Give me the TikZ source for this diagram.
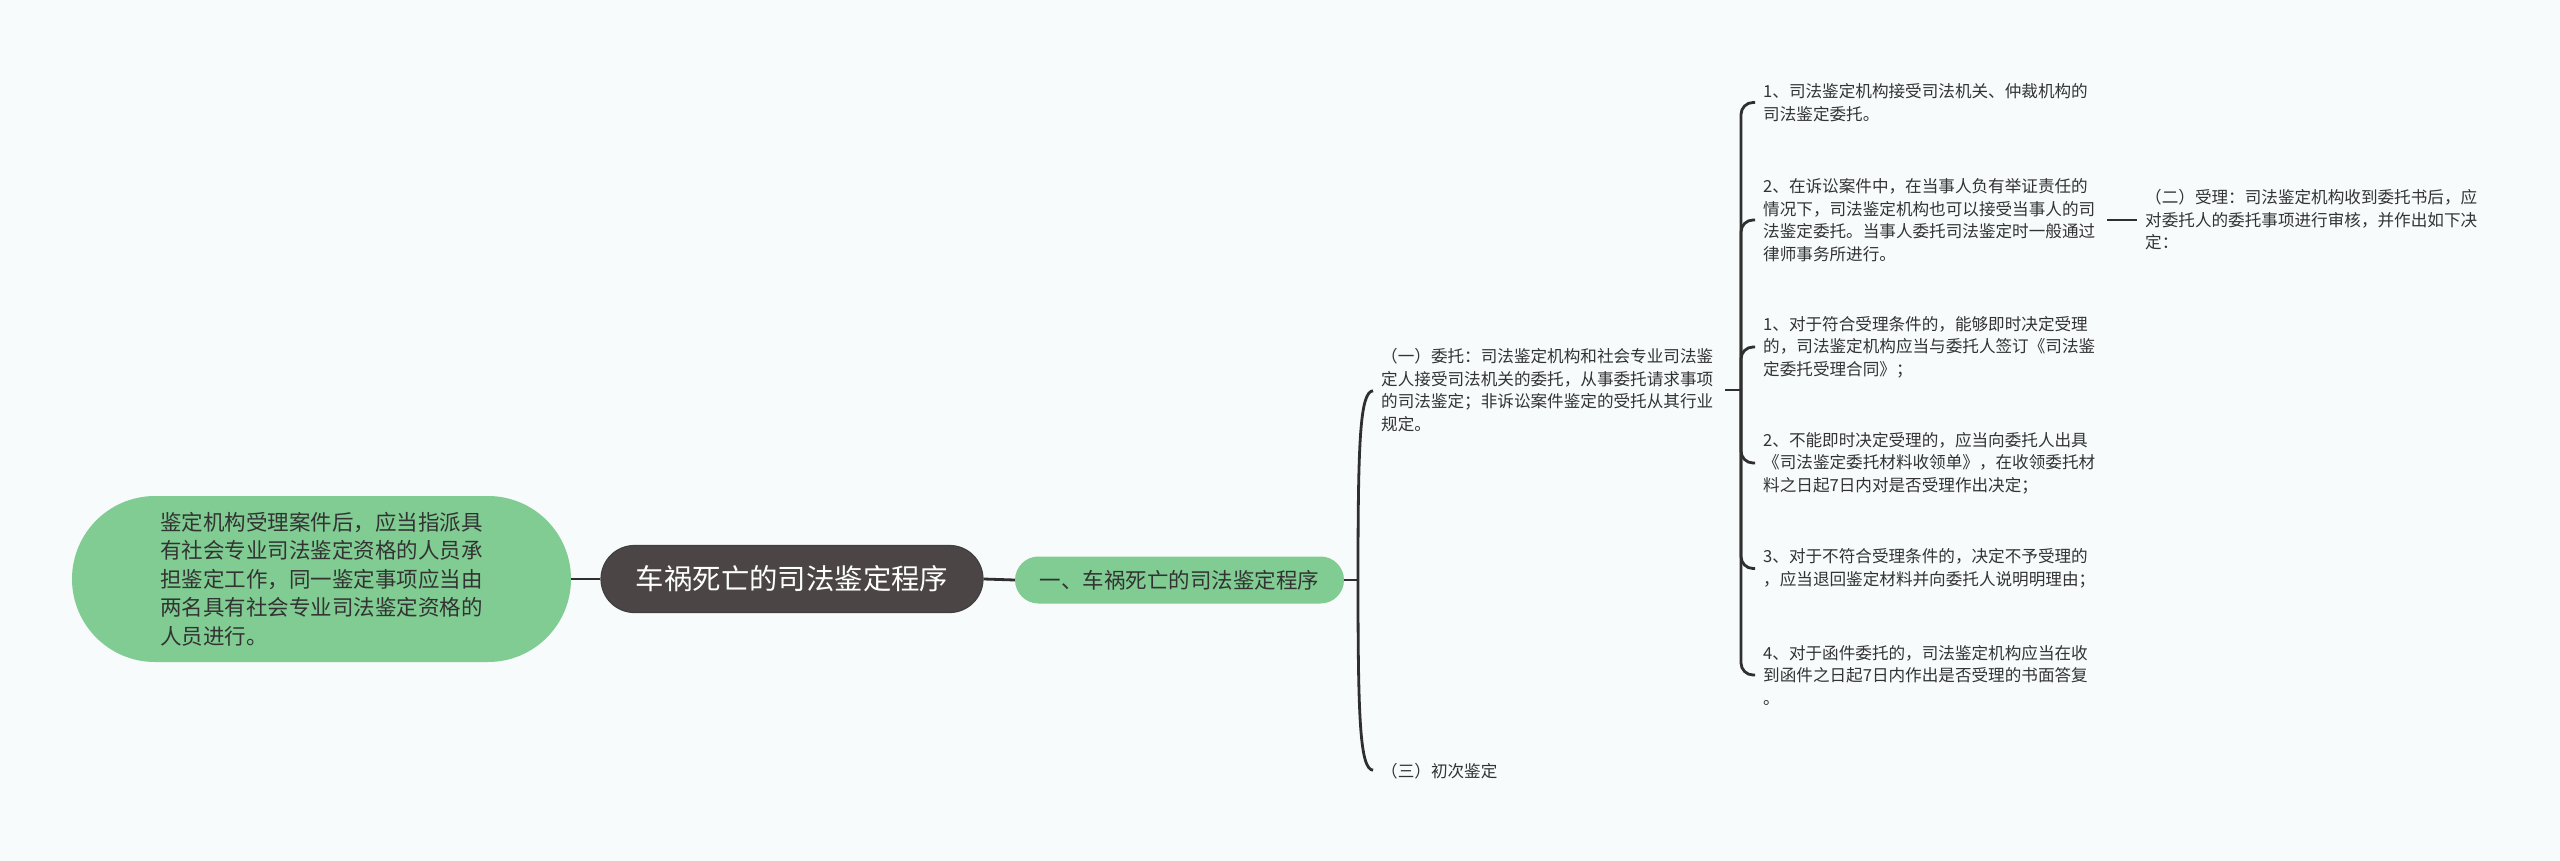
\documentclass[tikz,border=0pt]{standalone}
\usepackage{fontspec}
\setmainfont{Noto Sans CJK SC}
\definecolor{bgc}{HTML}{F7FBFC}
\definecolor{leafc}{HTML}{80CC92}
\definecolor{rootc}{HTML}{4B4545}
\definecolor{inkc}{HTML}{333333}
\definecolor{wirec}{HTML}{2F2F2F}
\tikzset{
  leafbox/.style={fill=leafc, text=inkc, inner sep=0pt},
  rootbox/.style={fill=rootc, draw=black!75, line width=1.2pt, text=white, inner sep=0pt},
  smalltxt/.style={anchor=west, align=left, inner sep=0pt, text=inkc, font=\fontsize{16.6}{22.5}\selectfont},
  wire/.style={draw=wirec, line width=2.8pt},
}
\begin{document}
\begin{tikzpicture}[x=1pt,y=-1pt]
\fill[bgc] (0,0) rectangle (2560,861);
\useasboundingbox (0,0) rectangle (2560,861);

\node[leafbox, rounded corners=83pt, minimum width=499pt, minimum height=166pt, align=left,
      font=\fontsize{21.5}{28.5}\selectfont] (L) at (321.5,579)
  {鉴定机构受理案件后，应当指派具\\有社会专业司法鉴定资格的人员承\\担鉴定工作，同一鉴定事项应当由\\两名具有社会专业司法鉴定资格的\\人员进行。};

\node[rootbox, rounded corners=33.5pt, minimum width=382pt, minimum height=67pt,
      font=\fontsize{28.4}{34}\selectfont] (R) at (792,579) {车祸死亡的司法鉴定程序};

\node[leafbox, rounded corners=23.5pt, minimum width=329pt, minimum height=47pt,
      font=\fontsize{21.5}{26}\selectfont] (G) at (1179.5,580) {一、车祸死亡的司法鉴定程序};

\node[smalltxt] (N1) at (1381,390)
  {（一）委托：司法鉴定机构和社会专业司法鉴\\定人接受司法机关的委托，从事委托请求事项\\的司法鉴定；非诉讼案件鉴定的受托从其行业\\规定。};
\node[smalltxt] (N3) at (1381,771) {（三）初次鉴定};

\node[smalltxt] (A) at (1763,102.5)
  {1、司法鉴定机构接受司法机关、仲裁机构的\\司法鉴定委托。};
\node[smalltxt] (B) at (1763,220)
  {2、在诉讼案件中，在当事人负有举证责任的\\情况下，司法鉴定机构也可以接受当事人的司\\法鉴定委托。当事人委托司法鉴定时一般通过\\律师事务所进行。};
\node[smalltxt] (C) at (1763,347)
  {1、对于符合受理条件的，能够即时决定受理\\的，司法鉴定机构应当与委托人签订《司法鉴\\定委托受理合同》；};
\node[smalltxt] (D) at (1763,463)
  {2、不能即时决定受理的，应当向委托人出具\\《司法鉴定委托材料收领单》，在收领委托材\\料之日起7日内对是否受理作出决定；};
\node[smalltxt] (E) at (1763,568.5)
  {3、对于不符合受理条件的，决定不予受理的\\，应当退回鉴定材料并向委托人说明明理由；};
\node[smalltxt] (F) at (1763,675)
  {4、对于函件委托的，司法鉴定机构应当在收\\到函件之日起7日内作出是否受理的书面答复\\。};

\node[smalltxt] (N2) at (2145,220)
  {（二）受理：司法鉴定机构收到委托书后，应\\对委托人的委托事项进行审核，并作出如下决\\定：};

\draw[wire] (L.east) -- (R.west);
\draw[wire] (R.east) -- (G.west);
\coordinate (J1) at (1358,580);
\draw[wire] (G.east) -- (J1);
\draw[wire, shorten >=8pt] (J1) .. controls (1358,440) and (1360,392) .. (N1.west);
\draw[wire, shorten >=8pt] (J1) .. controls (1358,720) and (1360,769) .. (N3.west);

\coordinate (J2) at (1741,390);
\draw[wire, shorten <=12pt] (N1.east) -- (J2);
\foreach \c in {A,B,C,D,E,F}
  \draw[wire, rounded corners=12pt, shorten >=8pt] (J2) |- (\c.west);

\draw[wire, shorten <=12pt, shorten >=8pt] (B.east) -- (N2.west);
\end{tikzpicture}
\end{document}
